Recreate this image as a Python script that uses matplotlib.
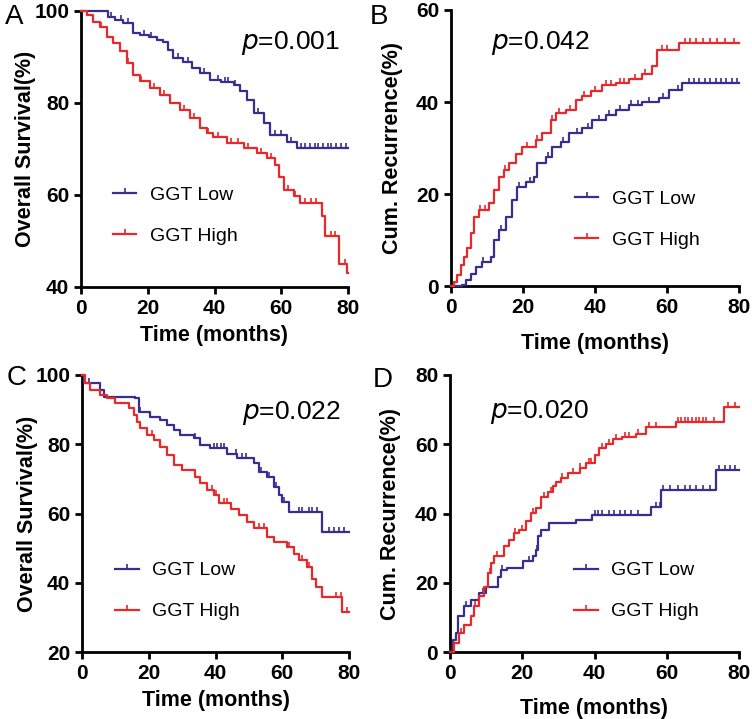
import numpy as np
import matplotlib.pyplot as plt
from matplotlib.lines import Line2D

plt.rcParams['font.family'] = ['Liberation Sans', 'DejaVu Sans']

BLUE = "#3a2d8f"
RED = "#e8282a"

# Panel A - overall survival
a_low_t = [0, 8.2, 10.2, 12.5, 15.7, 17.7, 20.5, 22.7, 24.7, 26.2, 27.7, 30.7, 33.2, 35.7, 38.7, 42.0,
           45.7, 47.7, 49.7, 51.7, 54.7, 56.7, 61.7, 64.7, 80]
a_low_v = [100, 98.8, 98.0, 97.3, 95.2, 94.8, 94.4, 93.8, 93.3, 91.5, 89.7, 89.0, 87.6, 86.5, 85.0, 84.5,
           84.0, 82.5, 80.7, 77.8, 75.6, 73.1, 71.6, 70.2, 70.2]
a_low_cens = [9, 12, 14, 19, 21, 29, 32, 37, 41, 43, 44, 46, 53, 58, 60, 63, 66, 67, 68.5, 70, 71, 72.5,
              74, 75, 76.5, 78, 79.5]
a_high_t = [0, 1.7, 3.7, 5.7, 7.7, 9.7, 11.7, 13.7, 15.7, 17.7, 20.7, 23.7, 26.7, 29.7, 32.7, 35.7,
            37.7, 39.7, 43.7, 48.7, 52.7, 55.7, 58.2, 59.2, 60.7, 63.7, 65.7, 72.2, 73.2, 77.2, 79.7, 80]
a_high_v = [100, 99.1, 97.7, 96.6, 94.4, 93.0, 91.2, 88.6, 86.1, 84.7, 83.2, 81.8, 80.0, 78.5, 76.7, 74.5,
            73.4, 72.6, 71.3, 70.2, 69.1, 68.0, 66.6, 64.0, 61.1, 59.7, 58.2, 55.4, 51.0, 44.9, 43.0, 43.0]
a_high_cens = [6, 14, 18, 22, 25, 31, 34, 38, 41, 45, 47, 50, 54, 57, 62, 64, 67, 69, 70.5, 75, 76, 79]

# Panel B - cumulative recurrence
b_low_t = [0, 3.1, 4.1, 5.5, 6.9, 8.7, 11.0, 11.9, 13.3, 15.2, 17.0, 18.4, 20.7, 23.1, 24.0, 26.3, 28.1,
           30.5, 32.8, 36.5, 39.3, 43.0, 45.7, 49.4, 53.1, 57.8, 60.6, 64.3, 80]
b_low_v = [0, 0.2, 1.3, 2.7, 4.2, 5.2, 6.4, 10.0, 12.2, 15.1, 18.7, 21.6, 22.7, 23.8, 26.7, 28.1, 30.3,
           31.4, 33.2, 34.3, 36.1, 37.2, 38.3, 39.3, 40.1, 40.8, 42.6, 44.1, 44.1]
b_low_cens = [9, 14, 19, 22, 27, 31, 35, 38, 41, 44, 47, 50, 52, 55, 59, 63, 66, 67.5, 69, 70.5, 72, 73.5,
              75, 76.5, 78, 79.5]
b_high_t = [0, 0.8, 1.8, 2.7, 3.6, 4.5, 5.5, 6.4, 7.8, 10.6, 11.9, 13.3, 14.7, 16.1, 18.0, 19.8, 23.5,
            25.4, 27.7, 29.1, 31.9, 34.6, 36.5, 38.8, 42.0, 45.7, 49.4, 53.1, 55.9, 57.3, 63.3, 80]
b_high_v = [0, 0.9, 2.4, 4.6, 6.4, 8.2, 11.5, 15.1, 16.5, 18.0, 20.9, 23.8, 25.2, 26.7, 28.8, 30.3, 31.7,
            33.2, 36.1, 37.5, 38.3, 40.4, 41.2, 42.3, 43.8, 44.1, 44.9, 46.0, 47.8, 51.4, 52.9, 52.9]
b_high_cens = [8, 9.5, 15, 21, 24, 28, 30, 33, 37, 40, 43, 44.5, 47, 48, 51, 54, 58.5, 60, 65, 66.5, 68,
               70, 72, 74, 76, 78.5]

# Panel C - overall survival
c_low_t = [0, 0.5, 5.5, 6.5, 16.0, 17.0, 20.5, 23.5, 25.5, 27.5, 29.5, 33.5, 35.5, 38.5, 43.5, 46.5,
           51.5, 53.0, 55.5, 57.5, 59.0, 60.0, 62.0, 72.0, 80]
c_low_v = [100, 97.6, 95.7, 93.7, 93.3, 89.4, 88.0, 87.0, 85.5, 84.1, 82.7, 81.7, 79.8, 78.8, 77.3, 75.9,
           74.5, 72.0, 70.6, 67.7, 65.3, 63.4, 60.5, 54.7, 54.7]
c_low_cens = [2, 17.5, 34, 39.5, 40.5, 41.5, 42.5, 46, 48, 49, 53.5, 56, 58, 60.5, 65, 66, 68, 69, 70.5,
              74, 75.5, 77, 78.5]
c_high_t = [0, 1.0, 2.5, 5.5, 7.5, 10.0, 14.0, 15.5, 16.5, 17.5, 19.5, 21.5, 23.5, 25.5, 27.5, 30.0,
            34.0, 35.5, 37.5, 39.5, 41.0, 44.5, 47.0, 49.5, 51.5, 55.5, 57.5, 61.5, 63.5, 65.0, 67.5,
            69.0, 70.0, 72.0, 78.0, 80]
c_high_v = [100, 97.6, 95.7, 94.2, 93.3, 91.8, 90.4, 88.4, 86.5, 84.6, 82.7, 81.2, 79.3, 76.9, 74.0,
            72.5, 70.6, 68.7, 66.7, 65.3, 62.9, 61.4, 59.5, 57.6, 55.7, 53.3, 51.8, 50.4, 48.4, 46.5,
            44.6, 41.2, 38.8, 35.9, 31.6, 31.6]
c_high_cens = [21, 39, 40, 42.5, 43.5, 47, 53, 54.5, 62, 66, 68, 76, 77.5, 79.5]

# Panel D - cumulative recurrence
d_low_t = [0, 0.7, 1.7, 2.1, 4.0, 5.8, 8.1, 10.0, 13.2, 14.1, 15.9, 20.1, 22.9, 23.8, 24.4, 25.2,
           27.5, 34.8, 39.4, 55.6, 58.3, 73.5, 80]
d_low_v = [0, 3.6, 5.5, 10.3, 13.2, 15.1, 17.0, 18.9, 21.8, 23.8, 24.2, 26.2, 27.6, 29.5, 33.4, 35.3,
           37.2, 38.2, 39.6, 42.0, 46.8, 52.6, 52.6]
d_low_cens = [4.5, 9, 14.5, 22, 24, 40, 41, 42, 44, 45.5, 47, 48.5, 50, 52, 57, 58, 59, 61, 63, 65,
              66.5, 68, 70, 72, 74.5, 76, 77.5, 79]
d_high_t = [0, 1.2, 2.6, 4.0, 5.8, 6.7, 8.1, 9.5, 10.4, 11.3, 12.3, 15.0, 16.4, 17.8, 19.2, 21.0, 22.4,
            23.8, 25.2, 27.0, 28.4, 29.3, 30.7, 32.6, 35.9, 37.7, 40.0, 41.3, 43.1, 45.0, 47.7, 51.4,
            54.2, 62.5, 75.9, 80]
d_high_v = [0, 2.6, 5.5, 7.9, 10.3, 13.2, 16.1, 18.9, 22.8, 25.7, 27.6, 30.5, 32.4, 34.3, 35.3, 37.7,
            40.1, 41.5, 44.9, 46.3, 47.8, 49.2, 50.2, 51.6, 53.1, 54.5, 56.9, 58.8, 60.2, 61.6, 62.1,
            63.1, 65.0, 66.5, 70.8, 70.8]
d_high_cens = [3, 7, 11, 13, 18, 20, 23, 26, 28, 31, 34, 36, 38.5, 39, 42, 44, 46, 48.5, 49.5, 52,
               55, 57, 63, 64, 65, 66, 67, 68, 69, 70, 71, 73, 77, 79]

panels = [
    ("A", a_low_t, a_low_v, a_low_cens, a_high_t, a_high_v, a_high_cens, "Overall Survival(%)",
     (40, 100), [40, 60, 80, 100], "0.001", (0.60, 0.885), (0.12, 0.34)),
    ("B", b_low_t, b_low_v, b_low_cens, b_high_t, b_high_v, b_high_cens, "Cum. Recurrence(%)",
     (0, 60), [0, 20, 40, 60], "0.042", (0.14, 0.88), (0.43, 0.32)),
    ("C", c_low_t, c_low_v, c_low_cens, c_high_t, c_high_v, c_high_cens, "Overall Survival(%)",
     (20, 100), [20, 40, 60, 80, 100], "0.022", (0.60, 0.863), (0.125, 0.30)),
    ("D", d_low_t, d_low_v, d_low_cens, d_high_t, d_high_v, d_high_cens, "Cum. Recurrence(%)",
     (0, 80), [0, 20, 40, 60, 80], "0.020", (0.14, 0.866), (0.43, 0.30)),
]

rects = [
    [81 / 752, 432 / 719, 267 / 752, 276 / 719],
    [451 / 752, 433 / 719, 288 / 752, 276 / 719],
    [82 / 752, 67 / 719, 267 / 752, 277 / 719],
    [450 / 752, 67 / 719, 289 / 752, 277 / 719],
]
letter_pos = [(5, 17), (370, 17), (7, 378), (373, 380)]
ylabel_pads = [-1, 9, -2, 10]
xlabel_pads = [5, 12, 5, 11]

fig = plt.figure(figsize=(7.52, 7.19), dpi=100)

for i, (letter, lt, lv, lc, ht, hv, hc, ylab, ylim, yticks, pval, ppos, lpos) in enumerate(panels):
    ax = fig.add_axes(rects[i])
    for t, v, cens, col in [(lt, lv, lc, BLUE), (ht, hv, hc, RED)]:
        ax.step(t, v, where="post", color=col, lw=1.6, clip_on=False, zorder=3)
        idx = np.searchsorted(t, cens, side="right") - 1
        cy = np.array(v)[idx]
        ax.plot(cens, cy, linestyle="none", marker=2, ms=3.5, mew=1.2, color=col,
                clip_on=False, zorder=3)
    ax.set_xlim(0, 80)
    ax.set_ylim(*ylim)
    ax.set_xticks([0, 20, 40, 60, 80])
    ax.set_yticks(yticks)
    for side in ["top", "right"]:
        ax.spines[side].set_visible(False)
    for side in ["left", "bottom"]:
        ax.spines[side].set_linewidth(2)
    ax.tick_params(direction="out", length=5, width=2, labelsize=15)
    for lab in ax.get_xticklabels() + ax.get_yticklabels():
        lab.set_fontweight("bold")
    ax.set_xlabel("Time (months)", fontsize=15.5, fontweight="bold", labelpad=xlabel_pads[i])
    ax.set_ylabel(ylab, fontsize=15.5, fontweight="bold", labelpad=ylabel_pads[i])
    ax.text(ppos[0], ppos[1], r"$\it{p}$" + "=" + pval, transform=ax.transAxes,
            fontsize=19, va="center", ha="left")
    handles = [Line2D([], [], color=BLUE, lw=1.6, marker=2, ms=3.5, mew=1.2),
               Line2D([], [], color=RED, lw=1.6, marker=2, ms=3.5, mew=1.2)]
    ax.legend(handles, ["GGT Low", "GGT High"], loc="center left",
              bbox_to_anchor=(lpos[0], lpos[1] - 0.08), frameon=False, fontsize=14,
              handlelength=1.2, handletextpad=0.7, labelspacing=1.2, borderpad=0,
              borderaxespad=0, numpoints=1)
    lp = letter_pos[i]
    fig.text(lp[0] / 752, 1 - lp[1] / 719, letter, fontsize=20, va="center", ha="left")

fig.savefig("out.png", dpi=100)
